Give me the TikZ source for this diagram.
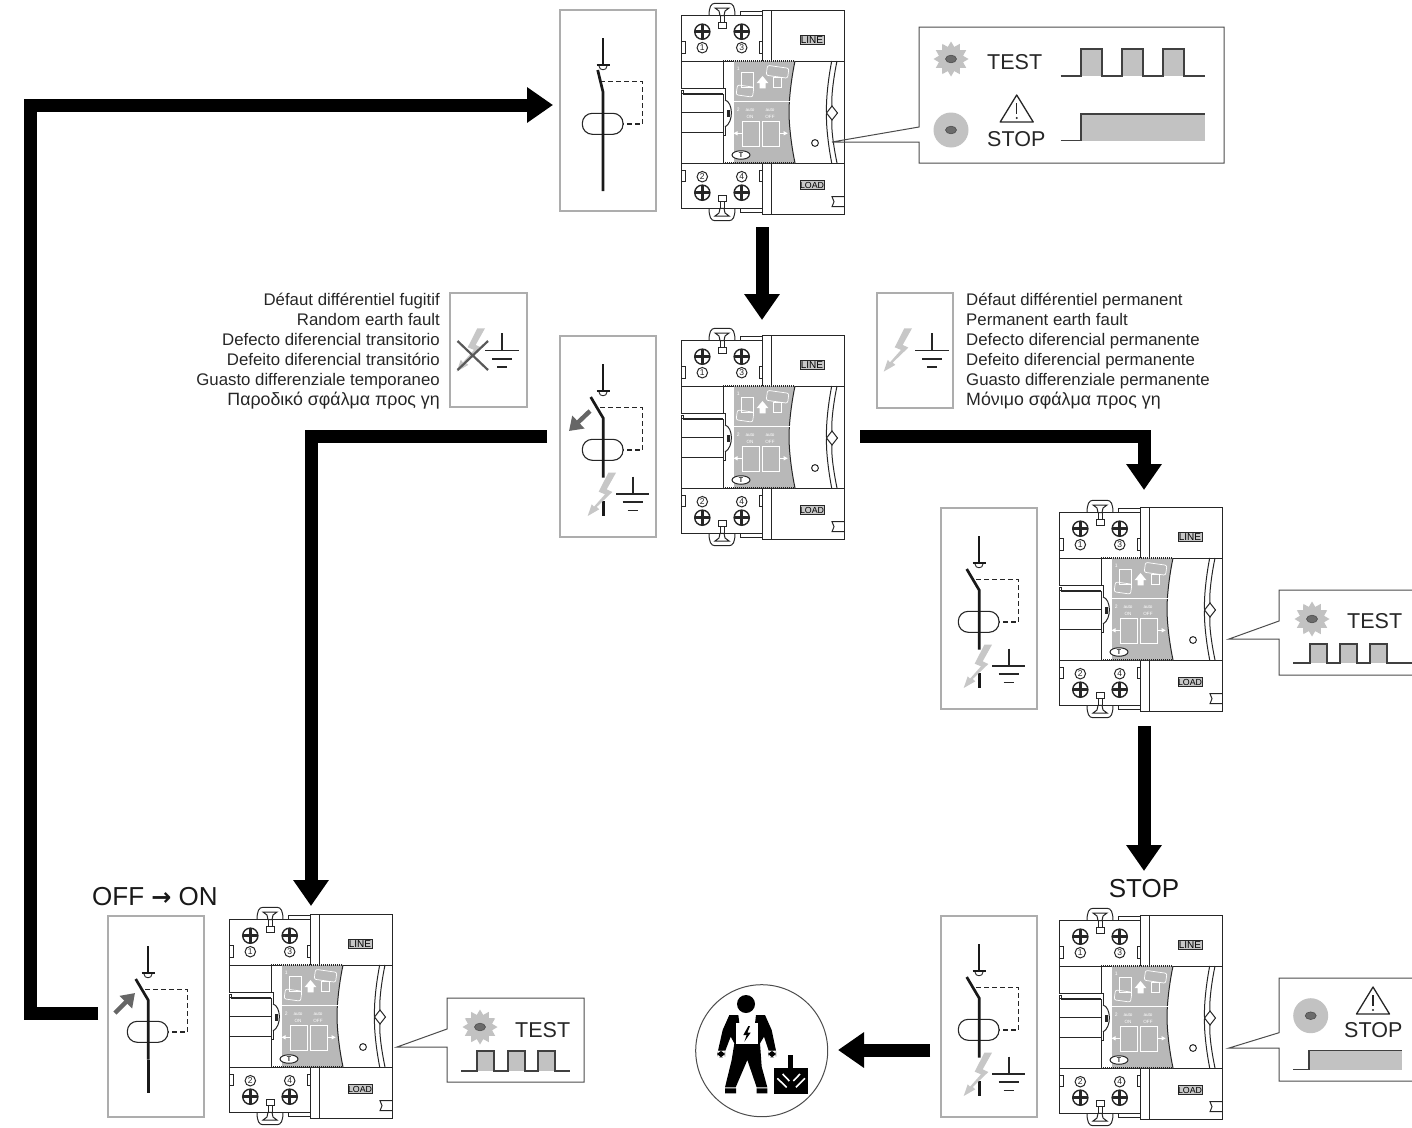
\documentclass[tikz,border=0pt]{standalone}
\usepackage{fontspec}
\setmainfont{Liberation Sans}
\newfontfamily\symbfont{DejaVu Sans}
\usetikzlibrary{arrows.meta,shapes.geometric}

\definecolor{framegrey}{gray}{0.68}
\definecolor{panelgrey}{gray}{0.72}
\definecolor{ledgrey}{gray}{0.76}
\definecolor{leddark}{gray}{0.42}
\definecolor{boltgrey}{gray}{0.78}
\definecolor{linegrey}{gray}{0.3}

\tikzset{
  flow/.style={line width=13pt, -{Triangle[length=26pt,width=34pt]}},
  devline/.style={line width=1pt, black!85},
  wire/.style={line width=2.7pt, black!90},
  frame/.style={draw=framegrey, line width=2.6pt},
  callout/.style={draw=linegrey, line width=1pt},
  waveline/.style={draw=black!75, line width=1.2pt},
  pushed/.style={line width=4.5pt, black!60, -{Triangle[length=13pt,width=17pt]}},
  label/.style={font=\fontsize{21.5}{24}\selectfont, text=black!85, inner sep=0pt},
  biglabel/.style={font=\fontsize{26}{28}\selectfont, text=black!90, inner sep=0pt},
  faulttext/.style={font=\fontsize{16.8}{20}\selectfont, text=black!85, inner sep=0pt},
  % the small pieces of the breaker
  screw/.pic={
    \draw[line width=1.4pt, black!85, fill=white] (0,0) circle (7.6);
    \draw[line width=2.8pt, black!85] (-7.6,0) -- (7.6,0) (0,-7.6) -- (0,7.6);
  },
  dinclip/.pic={
    \draw[devline, fill=white] (28,5.7) .. controls (28,-3) and (30,-6.7) .. (34,-6.7) -- (48,-6.7)
      .. controls (52,-6.7) and (54,-3) .. (54,5.7);
    \draw[devline, fill=white] (34,-2) -- (48,-2) -- (44,1) -- (43,5.7) -- (39,5.7) -- (38,1) -- cycle;
    \draw[devline, fill=white] (37.3,12.3) rectangle (45.7,18.3);
    \draw[devline] (39,5.7) -- (39,12.3) (43,5.7) -- (43,12.3);
  },
  breaker/.pic={
    % clips
    \pic {dinclip};
    \pic[yscale=-1] at (0,204) {dinclip};
    % terminal blocks
    \draw[devline] (0,5.7) rectangle (81,51);
    \draw[devline] (0,153) rectangle (81,198.3);
    \draw[devline] (0.7,31.7) rectangle (4,43) (78,31.7) rectangle (81,43);
    \draw[devline] (0.7,160) rectangle (4,171.7) (78,160) rectangle (81,171.7);
    \draw[devline] (59,5.7) -- (59,1.7) -- (81,1.7) (59,198.3) -- (59,202.3) -- (81,202.3);
    \pic at (21.3,21.7) {screw};
    \pic at (60.7,21.7) {screw};
    \pic at (21.3,182.7) {screw};
    \pic at (60.7,182.7) {screw};
    \node[devline, draw, circle, inner sep=0pt, minimum size=10.5pt, font=\fontsize{8.5}{8.5}\selectfont] (-one) at (21.3,37.7) {1};
    \node[devline, draw, circle, inner sep=0pt, minimum size=10.5pt, font=\fontsize{8.5}{8.5}\selectfont] (-three) at (60.7,37.7) {3};
    \node[devline, draw, circle, inner sep=0pt, minimum size=10.5pt, font=\fontsize{8.5}{8.5}\selectfont] (-two) at (21.3,166.7) {2};
    \node[devline, draw, circle, inner sep=0pt, minimum size=10.5pt, font=\fontsize{8.5}{8.5}\selectfont] (-four) at (60.7,166.7) {4};
    % right hand covers
    \draw[devline] (81,0) rectangle (90.5,51) (90.5,0) rectangle (163,51);
    \draw[devline] (81,153) rectangle (90.5,204) (90.5,153) rectangle (163,204);
    \node[draw=black!85, line width=0.5pt, fill=black!22, inner sep=0pt, minimum width=24pt, minimum height=8.6pt, font=\fontsize{10}{10}\selectfont] (-line) at (131,30) {LINE};
    \node[draw=black!85, line width=0.5pt, fill=black!22, inner sep=0pt, minimum width=24pt, minimum height=8.6pt, font=\fontsize{8.8}{8.8}\selectfont] (-load) at (131,175) {LOAD};
    \draw[devline] (163,186.7) -- (151,186.7) -- (153,191.7) -- (151,196.7) -- (163,196.7);
    % middle part
    \draw[devline] (0,51) -- (163,51) (0,153) -- (163,153) (0,51) -- (0,153) (163,51) -- (163,153);
    \fill[panelgrey] (53,51) -- (114,51) .. controls (110,70) and (108,90) .. (108,102)
      .. controls (108,114) and (110,134) .. (114,153) -- (53,153) -- cycle;
    \draw[devline] (42.3,51) -- (42.3,153);
    \draw[line width=1.2pt, dash pattern=on 1pt off 1pt, black!85] (42.3,51) -- (114,51) (42.3,153) -- (114,153);
    \draw[devline] (114,51) .. controls (110,70) and (108,90) .. (108,102) .. controls (108,114) and (110,134) .. (114,153);
    \draw[white, line width=0.8pt] (53,91.7) -- (108.5,91.7);
    % lever on the left
    \draw[devline, fill=white] (0,78.3) -- (44,78.3) -- (44,125) -- (42,125) -- (42,84) -- (2,84) -- (2,80.7) -- (0,80.7);
    \draw[devline] (0,83) -- (42,83) (0,102.7) -- (42,102.7) (0,122.7) -- (42,122.7);
    \draw[devline, fill=white] (44,90) .. controls (52,92) and (53,112) .. (44,117);
    \fill[black!85] (45.7,100) rectangle (49,106.7);
    % instructions on the grey panel
    \draw[white, line width=0.7pt] (60.7,62.7) rectangle (72.3,77);
    \draw[white, line width=0.7pt, rounded corners=2pt, rotate around={-8:(64,81)}] (55.7,76) rectangle (72.3,86);
    \fill[white] (81.5,66) -- (87.3,73) -- (84.5,73) -- (84.5,78.3) -- (78.5,78.3) -- (78.5,73) -- (75.7,73) -- cycle;
    \draw[white, line width=0.7pt, rounded corners=2pt, rotate around={-8:(96,62)}] (85.7,56.7) rectangle (107.3,66.7);
    \draw[white, line width=0.7pt] (92.3,67.3) rectangle (100.7,77.3);
    \draw[white, line width=0.7pt] (61.7,111.7) rectangle (78.3,136.7) (81.3,111.7) rectangle (98.3,136.7);
    \draw[white, line width=0.8pt, -{Triangle[length=4pt,width=4pt]}] (61.7,123.3) -- (52.5,123.3);
    \draw[white, line width=0.8pt, -{Triangle[length=4pt,width=4pt]}] (98.3,123.3) -- (106.7,123.3);
    \node[text=white, inner sep=0pt, font=\fontsize{5}{5}\selectfont] (-stepa) at (57.3,58.3) {1};
    \node[text=white, inner sep=0pt, font=\fontsize{5}{5}\selectfont] (-stepb) at (57.3,100) {2};
    \node[text=white, inner sep=0pt, align=center, font=\fontsize{4.6}{6.8}\selectfont] (-autoon) at (69,103.5) {auto\\ON};
    \node[text=white, inner sep=0pt, align=center, font=\fontsize{4.6}{6.8}\selectfont] (-autooff) at (89,103.5) {auto\\OFF};
    \node[devline, draw, fill=white, ellipse, inner sep=0pt, minimum width=18pt, minimum height=8.5pt, font=\fontsize{7}{7}\selectfont\bfseries] (-testkey) at (60,145) {T};
    % indicator and front edge
    \draw[devline] (134,133) circle (3.4);
    \draw[devline] (150.7,51) .. controls (147,70) and (145,90) .. (145.5,103) .. controls (145,114) and (147,134) .. (150.7,153);
    \draw[devline] (156,51) .. controls (152,70) and (150,90) .. (151,96) (151,110) .. controls (150,116) and (152,134) .. (156,153);
    \draw[devline, fill=white] (145.5,103) -- (151,96) -- (156.5,103) -- (151,110) -- cycle;
  },
  % the diagram panels
  schemebase/.pic={
    \draw[line width=1.1pt, black!85, rounded corners=10pt, fill=white] (22.3,103.3) rectangle (63,124.3);
    \draw[line width=1.2pt, black!85, dash pattern=on 5pt off 3pt] (40,71.7) -- (82.7,71.7) -- (82.7,114) -- (63,114);
    \draw[wire] (43,28) -- (43,54);
    \draw[line width=2pt, black!90] (36.5,55) -- (49.5,55);
    \draw[line width=0.9pt, black!85] (39,56) .. controls (39,61) and (47,61) .. (47,56);
  },
  closedblade/.pic={
    \draw[wire] (37.7,60) -- (43,82) -- (43,181);
  },
  openblade/.pic={
    \draw[wire] (30.7,61) -- (43.3,82.3) -- (43.3,141.7);
  },
  lowerwire/.pic={
    \draw[wire] (43.3,141.7) -- (43.3,175);
  },
  bolt/.pic={
    \fill[boltgrey] (48.3,136.7) -- (56,136.7) -- (46.7,153.3) -- (52.3,156) -- (36.7,171) -- (39.3,173.3) -- (27.7,180)
      -- (31.7,168.3) -- (34,170.7) -- (45,158.3) -- (38.7,155.7) -- cycle;
  },
  earth/.pic={
    \draw[line width=1.7pt, black!85] (0,0) -- (0,17.3) (-16.7,17.3) -- (16.7,17.3) (-10,25.5) -- (10,25.5) (-5,33.7) -- (5,33.7);
  },
  boltearth/.pic={
    \draw[wire] (43.3,165) -- (43.3,180);
    \pic {bolt};
    \pic at (72.7,140.7) {earth};
  },
  % the lamps
  ledspot/.pic={
    \draw[draw=black!70, fill=leddark, line width=0.6pt] (0,0) ellipse (5.5 and 3.8);
  },
  ledburst/.pic={
    \node[star, star points=12, star point ratio=1.4, fill=ledgrey, inner sep=0pt, minimum size=35pt] (-rays) at (0,0) {};
    \pic {ledspot};
  },
  ledon/.pic={
    \fill[ledgrey] (0,0) circle (17.5);
    \pic {ledspot};
  },
  warning/.pic={
    \draw[line width=1.3pt, black!85, line join=round] (0,0) -- (16.5,27) -- (-16.5,27) -- cycle;
    \draw[line width=1.4pt, black!85] (0,8) -- (0,19);
    \fill[black!85] (0,23) circle (1.2);
  },
}

\begin{document}
\begin{tikzpicture}[x=1pt,y=-1pt]
  \useasboundingbox (0,0) rectangle (1412,1127);

  % Breakers
  \pic (devtop) at (681,10) {breaker};
  \pic (devmid) at (681,335) {breaker};
  \pic (devtrip) at (1059,507) {breaker};
  \pic (devreset) at (229,914) {breaker};
  \pic (devstop) at (1059,915) {breaker};

  % Diagram panels
  \draw[frame] (560,10) rectangle (656,211);
  \pic (schtop) at (560,10) {schemebase};
  \pic at (560,10) {closedblade};
  \draw[frame] (560,336) rectangle (656,537);
  \pic (schmid) at (560,336) {schemebase};
  \pic at (560,336) {openblade};
  \pic at (560,336) {boltearth};
  \draw[frame] (941,508) rectangle (1037,709);
  \pic (schtrip) at (936,508) {schemebase};
  \pic at (936,508) {openblade};
  \pic at (936,508) {boltearth};
  \draw[frame] (941,916) rectangle (1037,1117);
  \pic (schstop) at (936,916) {schemebase};
  \pic at (936,916) {openblade};
  \pic at (936,916) {boltearth};
  \draw[frame] (108,916) rectangle (204,1117);
  \pic (schreset) at (105,918) {schemebase};
  \pic at (105,918) {openblade};
  \pic at (105,918) {lowerwire};

  % Hand and fault arrows on the panels
  \draw[pushed] (590,411) -- (569,431);
  \draw[pushed] (115,1013) -- (135,993);

  % Fault boxes
  \draw[frame] (450,293) rectangle (527,407);
  \pic at (429,191.6) {bolt};
  \draw[line width=2.2pt, black!65] (457.5,341) -- (488,370) (488,341) -- (457.5,370);
  \pic at (502,333.3) {earth};
  \draw[frame] (877,293) rectangle (953,408);
  \pic at (856,191.6) {bolt};
  \pic at (932,333.3) {earth};
  \node[faulttext, anchor=north east, align=right] (faultrandom) at (440,293) {Défaut différentiel fugitif\\Random earth fault\\Defecto diferencial transitorio\\Defeito diferencial transitório\\Guasto differenziale temporaneo\\{\fontsize{17.8}{20}\selectfont Παροδικό σφάλμα προς γη}};
  \node[faulttext, anchor=north west, align=left] (faultperm) at (966,293) {Défaut différentiel permanent\\Permanent earth fault\\Defecto diferencial permanente\\Defeito diferencial permanente\\Guasto differenziale permanente\\{\fontsize{17.8}{20}\selectfont Μόνιμο σφάλμα προς γη}};

  % Callout top
  \draw[callout] (919,127) -- (919,27) -- (1224,27) -- (1224,163) -- (919,163) -- (919,142) -- (832,142) -- cycle;
  \pic (lamptest) at (951,59) {ledburst};
  \node[label, anchor=west] (testtop) at (987,62) {TEST};
  \foreach \p in {1081,1122,1163}
    \fill[ledgrey] (\p,49) rectangle ++(21,27);
  \draw[waveline] (1060.7,76) -- (1081,76) -- (1081,49) -- (1102,49) -- (1102,76) -- (1122,76) -- (1122,49) -- (1143,49) -- (1143,76) -- (1163,76) -- (1163,49) -- (1184,49) -- (1184,76) -- (1205,76);
  \pic (lampstop) at (951,130) {ledon};
  \pic at (1016.7,95) {warning};
  \node[label, anchor=west] (stoptop) at (987,139) {STOP};
  \fill[ledgrey] (1081,114) rectangle (1205,140.7);
  \draw[waveline] (1060.7,140.7) -- (1081,140.7) -- (1081,114) -- (1205,114);

  % Callout right
  \draw[callout] (1412,590) -- (1279,590) -- (1279,621) -- (1229,639) -- (1279,639) -- (1279,675) -- (1412,675);
  \pic (lamptrip) at (1312,619) {ledburst};
  \node[label, anchor=west] (testtrip) at (1347,621) {TEST};
  \foreach \p in {1310,1340,1370}
    \fill[ledgrey] (\p,644) rectangle ++(17,19);
  \draw[waveline] (1293,663) -- (1310,663) -- (1310,644) -- (1327,644) -- (1327,663) -- (1340,663) -- (1340,644) -- (1357,644) -- (1357,663) -- (1370,663) -- (1370,644) -- (1387,644) -- (1387,663) -- (1412,663);

  % Callout lower left
  \draw[callout] (447,1029) -- (447,998) -- (584,998) -- (584,1082) -- (447,1082) -- (447,1047) -- (397,1047) -- cycle;
  \pic (lampreset) at (480,1027) {ledburst};
  \node[label, anchor=west] (testreset) at (515,1030) {TEST};
  \foreach \p in {477,508,538}
    \fill[ledgrey] (\p,1051) rectangle ++(17,20);
  \draw[waveline] (461,1071) -- (477,1071) -- (477,1051) -- (494,1051) -- (494,1071) -- (508,1071) -- (508,1051) -- (525,1051) -- (525,1071) -- (538,1071) -- (538,1051) -- (555,1051) -- (555,1071) -- (570,1071);

  % Callout lower right
  \draw[callout] (1412,978) -- (1279,978) -- (1279,1032.7) -- (1229,1048) -- (1279,1048) -- (1279,1081) -- (1412,1081);
  \pic (lampdone) at (1310.7,1015.7) {ledon};
  \pic at (1373,987) {warning};
  \node[label, anchor=west] (stopdone) at (1344,1030) {STOP};
  \fill[ledgrey] (1309,1050.7) rectangle (1402,1069.7);
  \draw[waveline] (1293,1069.7) -- (1309,1069.7) -- (1309,1050.7) -- (1402,1050.7);

  % Free labels
  \node[biglabel, anchor=west] (offon) at (92,897) {OFF {\symbfont\bfseries\fontsize{24}{24}\selectfont →} ON};
  \node[biglabel, anchor=center] (stoplabel) at (1144,889) {STOP};

  % Qualified worker
  \draw[line width=1pt, black!70] (761.7,1050.7) circle (66);
  \begin{scope}[shift={(690,980)},scale=1/3]
    \fill[black] (168,72) circle (27);
    \fill[black] (118,105) -- (145,105) -- (148,130) -- (195,130) -- (198,105) -- (225,105) -- (245,150) -- (258,212) -- (236,212) -- (222,170) -- (210,190) -- (215,260) -- (232,322) -- (200,322) -- (172,240) -- (137,322) -- (105,322) -- (125,240) -- (133,190) -- (122,170) -- (106,212) -- (84,212) -- (98,150) -- cycle;
    \fill[white] (138,130) rectangle (205,192);
    \fill[black] (175,138) -- (160,165) -- (170,165) -- (163,185) -- (182,158) -- (172,158) -- (180,138) -- cycle;
    \fill[black, rounded corners=6pt] (81,212) rectangle (105,232);
    \fill[black, rounded corners=6pt] (234,212) rectangle (258,232);
    \fill[black] (105,325) rectangle (138,340) (200,325) rectangle (232,340);
    \fill[black] (295,225) rectangle (310,265);
    \fill[black] (253,265) rectangle (355,342);
    \draw[white, line width=1.6pt] (262,295) -- (290,322) (278,282) -- (298,303) (345,295) -- (318,322) (330,282) -- (310,303);
  \end{scope}

  % Flow arrows
  \coordinate (resetout) at (98,1013);
  \coordinate (topin) at (553,105);
  \coordinate (topout) at (762,227);
  \coordinate (midin) at (762,320);
  \coordinate (midright) at (860,436);
  \coordinate (tripin) at (1144,490);
  \coordinate (tripout) at (1144,726);
  \coordinate (stopin) at (1144,871);
  \coordinate (midleft) at (547,436);
  \coordinate (resetin) at (311,906);
  \coordinate (stopout) at (930,1050);
  \coordinate (workerin) at (838,1050);
  \draw[flow] (resetout) -- (30,1013) -- (30,105) -- (topin);
  \draw[flow] (topout) -- (midin);
  \draw[flow] (midright) -| (tripin);
  \draw[flow] (tripout) -- (stopin);
  \draw[flow] (midleft) -| (resetin);
  \draw[flow] (stopout) -- (workerin);

\end{tikzpicture}
\end{document}
